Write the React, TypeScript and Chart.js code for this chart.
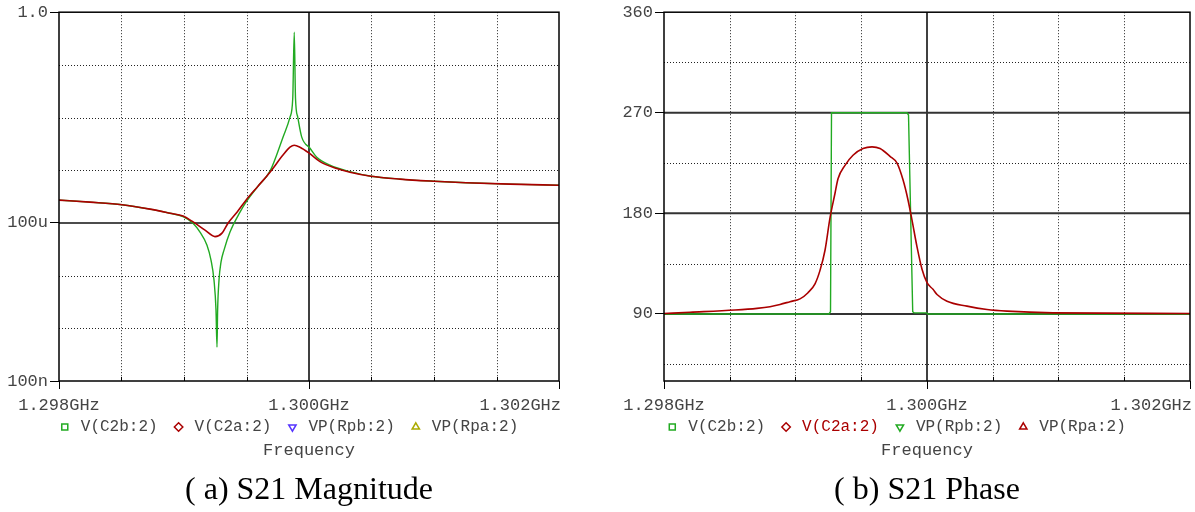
import React, { useEffect, useRef } from 'react';
import { Chart, registerables } from 'chart.js';

Chart.register(...registerables);

// ---------- Data: S21 magnitude (frequency in GHz) ----------
const magGreenFreq = [
  1.298, 1.298248, 1.298504, 1.298728, 1.298888, 1.298992, 1.299072, 1.299128, 1.299184, 1.299216,
  1.29924, 1.299256, 1.299264, 1.299269, 1.29928, 1.299296, 1.29932, 1.299368, 1.299448, 1.299496,
  1.299592, 1.299688, 1.299792, 1.299848, 1.29987, 1.299882, 1.299892, 1.29991, 1.299942, 1.300008,
  1.300062, 1.300168, 1.300328, 1.300496, 1.300728, 1.301, 1.301256, 1.301608, 1.302,
];
const magGreenVal = [
  2.71e-4, 2.48e-4, 2.22e-4, 1.83e-4, 1.53e-4, 1.32e-4, 9.9e-5, 6.7e-5, 3.79e-5, 1.97e-5,
  8.2e-6, 2.22e-6, 4.4e-7, 2.22e-6, 8.2e-6, 1.8e-5, 3.05e-5, 6.7e-5, 1.6e-4, 2.48e-4,
  4.99e-4, 9.6e-4, 4.25e-3, 1.02e-2, 2.33e-2, 0.417, 2.33e-2, 1.02e-2, 4.25e-3, 2.62e-3,
  1.77e-3, 1.25e-3, 9.4e-4, 7.7e-4, 6.8e-4, 6.2e-4, 5.8e-4, 5.45e-4, 5.2e-4,
];
const magRedFreq = [
  1.298, 1.298248, 1.298504, 1.298728, 1.298888, 1.298992, 1.299064, 1.299168, 1.299248, 1.299304,
  1.299352, 1.299424, 1.299496, 1.299592, 1.299688, 1.299792, 1.299848, 1.299882, 1.299928, 1.300002,
  1.300088, 1.300222, 1.300328, 1.300496, 1.300728, 1.301, 1.301256, 1.301608, 1.302,
];
const magRedVal = [
  2.71e-4, 2.48e-4, 2.22e-4, 1.83e-4, 1.53e-4, 1.35e-4, 1.08e-4, 7.3e-5, 5.5e-5, 6.4e-5,
  9.9e-5, 1.6e-4, 2.71e-4, 4.99e-4, 9.2e-4, 1.94e-3, 2.74e-3, 2.99e-3, 2.74e-3, 2.11e-3,
  1.46e-3, 1.08e-3, 9.2e-4, 7.7e-4, 6.8e-4, 6.2e-4, 5.8e-4, 5.45e-4, 5.2e-4,
];

// ---------- Data: S21 phase (degrees) ----------
const phGreenFreq = [1.298, 1.2992548, 1.2992662, 1.2992738, 1.299848, 1.2998594, 1.2998914, 1.2999013, 1.2999978, 1.3000039, 1.302];
const phGreenVal = [90, 90, 92, 270, 270, 268, 92, 91, 91, 90, 90];
const phRedFreq = [
  1.298, 1.2981977, 1.29854, 1.2987073, 1.2988061, 1.2988822, 1.2989582, 1.2990343, 1.2990951, 1.2991484,
  1.2991864, 1.2992244, 1.2992624, 1.2993005, 1.2993233, 1.2993765, 1.2994373, 1.2995134, 1.2995818, 1.2996427,
  1.2997187, 1.299772, 1.2998176, 1.2998556, 1.299886, 1.2999241, 1.2999621, 1.3000001, 1.3000457, 1.3000762,
  1.3001522, 1.3003043, 1.3004564, 1.3006085, 1.3009583, 1.302,
];
const phRedVal = [
  90.4, 91.5, 93.5, 95, 96.5, 98.5, 101, 103.5, 109, 117,
  129, 147, 176, 198, 211, 223, 232, 238, 239.5, 238,
  231, 225, 210, 192, 174, 150, 130, 118, 112, 107.4,
  101.4, 97, 94, 92.5, 91, 90.4,
];

// ---------- Axis ticks / labels ----------
const xTickValues = [1.298, 1.3, 1.302];
const xTickLabels = ['1.298GHz', '1.300GHz', '1.302GHz'];
const xDottedValues = [1.2985, 1.299, 1.2995, 1.3005, 1.301, 1.3015];
const xSolidValues = [1.3];
const magTickValues = [1, 1e-4, 1e-7];
const magTickLabels = ['1.0', '100u', '100n'];
const magDottedValues = [1e-1, 1e-2, 1e-3, 1e-5, 1e-6];
const magSolidValues = [1e-4];
const phaseTickValues = [360, 270, 180, 90];
const phaseTickLabels = ['360', '270', '180', '90'];
const phaseDottedValues = [45, 135, 225, 315];
const phaseSolidValues = [90, 180, 270];
const legendLabels = ['V(C2b:2)', 'V(C2a:2)', 'VP(Rpb:2)', 'VP(Rpa:2)'];

const GREEN = '#22aa22';
const RED = '#aa0000';
const GRAY_TEXT = '#444444';
const MONO = "'Liberation Mono', 'DejaVu Sans Mono', monospace";
const SERIF = "'Liberation Serif', 'DejaVu Serif', serif";

function toXY(f: number[], v: number[]) {
  return f.map((x, i) => ({ x, y: v[i] }));
}

function framePlugin(cfg: { dottedY: number[]; solidY: number[]; solidYColor: string; solidYWidth: number }) {
  return {
    id: 'pspiceFrame',
    beforeDatasetsDraw(chart: any) {
      const { ctx, chartArea: a, scales } = chart;
      const xs = scales.x;
      const ys = scales.y;
      ctx.save();
      ctx.lineWidth = 1;
      ctx.strokeStyle = '#222';
      ctx.setLineDash([1, 2]);
      for (const v of xDottedValues) {
        const px = Math.round(xs.getPixelForValue(v)) + 0.5;
        ctx.beginPath(); ctx.moveTo(px, a.top); ctx.lineTo(px, a.bottom); ctx.stroke();
      }
      for (const v of cfg.dottedY) {
        const py = Math.round(ys.getPixelForValue(v)) + 0.5;
        ctx.beginPath(); ctx.moveTo(a.left, py); ctx.lineTo(a.right, py); ctx.stroke();
      }
      ctx.setLineDash([]);
      ctx.strokeStyle = '#000';
      ctx.lineWidth = 1.5;
      for (const v of xSolidValues) {
        const px = xs.getPixelForValue(v);
        ctx.beginPath(); ctx.moveTo(px, a.top); ctx.lineTo(px, a.bottom); ctx.stroke();
      }
      ctx.strokeStyle = cfg.solidYColor;
      ctx.lineWidth = cfg.solidYWidth;
      for (const v of cfg.solidY) {
        const py = ys.getPixelForValue(v);
        ctx.beginPath(); ctx.moveTo(a.left, py); ctx.lineTo(a.right, py); ctx.stroke();
      }
      ctx.restore();
    },
    afterDraw(chart: any) {
      const { ctx, chartArea: a, scales } = chart;
      const xs = scales.x;
      ctx.save();
      ctx.strokeStyle = '#000';
      ctx.lineWidth = 1.5;
      ctx.strokeRect(a.left, a.top, a.right - a.left, a.bottom - a.top);
      ctx.lineWidth = 1;
      for (const v of xTickValues) {
        const px = Math.round(xs.getPixelForValue(v)) + 0.5;
        ctx.beginPath(); ctx.moveTo(px, a.bottom); ctx.lineTo(px, a.bottom + 8); ctx.stroke();
      }
      for (const v of xDottedValues) {
        const px = Math.round(xs.getPixelForValue(v)) + 0.5;
        ctx.beginPath(); ctx.moveTo(px, a.bottom); ctx.lineTo(px, a.bottom - 4); ctx.stroke();
      }
      ctx.fillStyle = GRAY_TEXT;
      ctx.font = `17px ${MONO}`;
      ctx.textBaseline = 'middle';
      xTickValues.forEach((v, i) => {
        const px = xs.getPixelForValue(v);
        if (i === xTickValues.length - 1) {
          ctx.textAlign = 'right';
          ctx.fillText(xTickLabels[i], px + 2, a.bottom + 24);
        } else {
          ctx.textAlign = 'center';
          ctx.fillText(xTickLabels[i], px, a.bottom + 24);
        }
      });
      ctx.restore();
    },
  };
}

type Sym = { style: string; rotation: number; color: string; textColor: string };

function makeLegend(syms: Sym[]) {
  return {
    display: true,
    position: 'bottom' as const,
    fullSize: true,
    maxHeight: 34,
    labels: {
      usePointStyle: true,
      boxWidth: 16,
      boxHeight: 6,
      padding: 13,
      color: GRAY_TEXT,
      font: { family: MONO, size: 16 },
      generateLabels: () =>
        legendLabels.map((t, i) => ({
          text: t,
          datasetIndex: i,
          hidden: false,
          fillStyle: '#ffffff',
          strokeStyle: syms[i].color,
          lineWidth: 1.5,
          pointStyle: syms[i].style,
          rotation: syms[i].rotation,
          fontColor: syms[i].textColor,
        })),
    },
  };
}

function commonPlugins(caption: string, syms: Sym[]) {
  return {
    legend: makeLegend(syms),
    tooltip: { enabled: false },
    title: {
      display: true,
      text: 'Frequency',
      position: 'bottom' as const,
      fullSize: false,
      color: GRAY_TEXT,
      font: { family: MONO, size: 17, weight: 'normal' as const },
      padding: { top: 0, bottom: 2 },
    },
    subtitle: {
      display: true,
      text: caption,
      position: 'bottom' as const,
      fullSize: false,
      weight: 3000,
      color: '#000000',
      font: { family: SERIF, size: 32, weight: 'normal' as const },
      padding: { top: 9.4, bottom: 1.8 },
    },
  };
}

function xScale() {
  return {
    type: 'linear' as const,
    min: 1.298,
    max: 1.302,
    ticks: { display: false },
    grid: { display: false },
    border: { display: false },
    afterFit(s: any) { s.height = 25; },
  };
}

// invisible right-hand spacer axis, keeps the plot's right edge in place
function spacerScale(w: number) {
  return {
    type: 'linear' as const,
    position: 'right' as const,
    display: true,
    ticks: { display: false },
    grid: { display: false },
    border: { display: false },
    afterFit(s: any) { s.width = w; },
  };
}

function MagnitudeChart() {
  const ref = useRef<HTMLCanvasElement | null>(null);
  useEffect(() => {
    if (!ref.current) return;
    const syms: Sym[] = [
      { style: 'rect', rotation: 0, color: GREEN, textColor: GRAY_TEXT },
      { style: 'rectRot', rotation: 0, color: RED, textColor: GRAY_TEXT },
      { style: 'triangle', rotation: 180, color: '#5533ff', textColor: GRAY_TEXT },
      { style: 'triangle', rotation: 0, color: '#aaaa00', textColor: GRAY_TEXT },
    ];
    const chart = new Chart(ref.current, {
      type: 'line',
      data: {
        datasets: [
          { label: legendLabels[0], data: toXY(magGreenFreq, magGreenVal), borderColor: GREEN, borderWidth: 1.4, pointRadius: 0, order: 1, cubicInterpolationMode: 'monotone' },
          { label: legendLabels[1], data: toXY(magRedFreq, magRedVal), borderColor: RED, borderWidth: 1.6, pointRadius: 0, order: 0, cubicInterpolationMode: 'monotone' },
          { label: legendLabels[2], data: [], borderColor: '#5533ff', pointRadius: 0, order: 2 },
          { label: legendLabels[3], data: [], borderColor: '#aaaa00', pointRadius: 0, order: 3 },
        ],
      },
      options: {
        responsive: false,
        animation: false,
        devicePixelRatio: 1,
        layout: { padding: { top: 12, right: 0, bottom: 0, left: 0 } },
        scales: {
          x: xScale(),
          y: {
            type: 'logarithmic',
            min: 1e-7,
            max: 1,
            afterBuildTicks(s: any) { s.ticks = magTickValues.map((v) => ({ value: v })); },
            afterFit(s: any) { s.width = 59; },
            ticks: {
              autoSkip: false,
              padding: 2,
              color: GRAY_TEXT,
              font: { family: MONO, size: 17 },
              callback: (v: any) => {
                const i = magTickValues.findIndex((t) => Math.abs(Math.log10(t) - Math.log10(Number(v))) < 1e-6);
                return i >= 0 ? magTickLabels[i] : '';
              },
            },
            grid: { display: true, drawOnChartArea: false, drawTicks: true, tickLength: 9, tickColor: '#000', tickWidth: 1 },
            border: { display: false },
          },
          yPad: spacerScale(16),
        },
        plugins: commonPlugins('( a) S21 Magnitude', syms) as any,
      },
      plugins: [framePlugin({ dottedY: magDottedValues, solidY: magSolidValues, solidYColor: '#111', solidYWidth: 1.5 })],
    } as any);
    return () => chart.destroy();
  }, []);
  return <canvas ref={ref} width={575} height={512} style={{ position: 'absolute', left: 0, top: 0 }} />;
}

function PhaseChart() {
  const ref = useRef<HTMLCanvasElement | null>(null);
  useEffect(() => {
    if (!ref.current) return;
    const syms: Sym[] = [
      { style: 'rect', rotation: 0, color: GREEN, textColor: GRAY_TEXT },
      { style: 'rectRot', rotation: 0, color: RED, textColor: RED },
      { style: 'triangle', rotation: 180, color: GREEN, textColor: GRAY_TEXT },
      { style: 'triangle', rotation: 0, color: RED, textColor: GRAY_TEXT },
    ];
    const chart = new Chart(ref.current, {
      type: 'line',
      data: {
        datasets: [
          { label: legendLabels[0], data: [], borderColor: GREEN, pointRadius: 0, order: 2 },
          { label: legendLabels[1], data: [], borderColor: RED, pointRadius: 0, order: 3 },
          { label: legendLabels[2], data: toXY(phGreenFreq, phGreenVal), borderColor: GREEN, borderWidth: 1.4, pointRadius: 0, order: 1 },
          { label: legendLabels[3], data: toXY(phRedFreq, phRedVal), borderColor: RED, borderWidth: 1.6, pointRadius: 0, order: 0, cubicInterpolationMode: 'monotone' },
        ],
      },
      options: {
        responsive: false,
        animation: false,
        devicePixelRatio: 1,
        layout: { padding: { top: 12, right: 5, bottom: 0, left: 0 } },
        scales: {
          x: xScale(),
          y: {
            type: 'linear',
            min: 30,
            max: 360,
            afterBuildTicks(s: any) { s.ticks = phaseTickValues.map((v) => ({ value: v })); },
            afterFit(s: any) { s.width = 64; },
            ticks: {
              autoSkip: false,
              padding: 2,
              color: GRAY_TEXT,
              font: { family: MONO, size: 17 },
              callback: (v: any) => {
                const i = phaseTickValues.indexOf(Number(v));
                return i >= 0 ? phaseTickLabels[i] : '';
              },
            },
            grid: { display: true, drawOnChartArea: false, drawTicks: true, tickLength: 9, tickColor: '#000', tickWidth: 1 },
            border: { display: false },
          },
        },
        plugins: commonPlugins('( b) S21 Phase', syms) as any,
      },
      plugins: [framePlugin({ dottedY: phaseDottedValues, solidY: phaseSolidValues, solidYColor: '#333', solidYWidth: 2 })],
    } as any);
    return () => chart.destroy();
  }, []);
  return <canvas ref={ref} width={595} height={512} style={{ position: 'absolute', left: 600, top: 0 }} />;
}

export default function App() {
  return (
    <div style={{ position: 'absolute', left: 0, top: 0, width: 1195, height: 512, background: '#ffffff', overflow: 'hidden' }}>
      <MagnitudeChart />
      <PhaseChart />
    </div>
  );
}
